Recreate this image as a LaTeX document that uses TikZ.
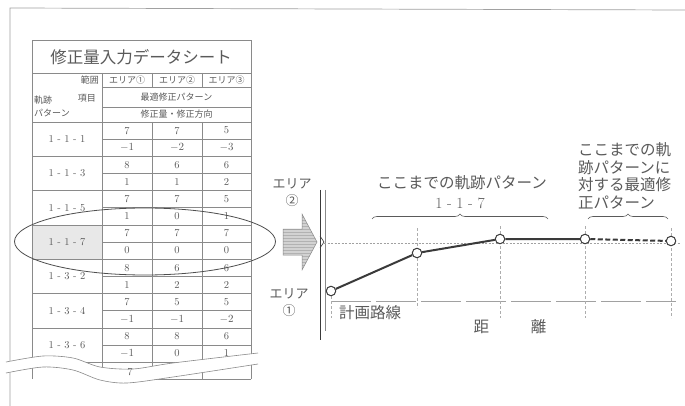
\documentclass[tikz,border=0pt]{standalone}
\usepackage{fontspec}
\newfontfamily\jp{Noto Sans CJK JP}
\usetikzlibrary{decorations.pathreplacing,shapes.geometric}
\definecolor{lc}{HTML}{8A8A8A}
\definecolor{tx}{HTML}{5A5A5A}
\definecolor{dk}{HTML}{3A3A3A}
\begin{document}
\begin{tikzpicture}[x=1pt,y=-1pt,
  tline/.style={draw=lc,line width=0.6pt},
  frame/.style={draw=lc!80,line width=0.7pt},
  ttl/.style={inner sep=0pt,text=tx,font=\jp\fontsize{16.5}{18}\selectfont},
  hd/.style={inner sep=0pt,text=tx,font=\jp\fontsize{9}{10}\selectfont},
  dat/.style={inner sep=0pt,text=tx,font=\fontsize{10.5}{12}\selectfont},
  lbl/.style={inner sep=0pt,text=tx,font=\jp\fontsize{15.5}{17.5}\selectfont},
  sml/.style={inner sep=0pt,text=tx,align=center,font=\jp\fontsize{13}{17}\selectfont},
  pt/.style={circle,draw=dk,fill=white,line width=1pt,minimum size=9.5pt,inner sep=0pt},
  traj/.style={draw=dk,line width=2pt},
  grid/.style={draw=lc!70,line width=0.5pt,dash pattern=on 3pt off 2pt},
  refl/.style={draw=lc!80,line width=0.5pt,dash pattern=on 2pt off 1.5pt},
  plan/.style={draw=lc!80,line width=0.6pt,dash pattern=on 40pt off 5pt},
  brc/.style={draw=tx,line width=0.6pt,decorate,decoration={brace,amplitude=5pt}},
  oval/.style={ellipse,draw=dk!90,line width=0.8pt,minimum width=261pt,minimum height=67pt,inner sep=0pt}]
\useasboundingbox (0,0) rectangle (685,406);
\fill[white] (0,0) rectangle (685,406);
% outer frame
\draw[frame] (10,406) -- (10,8) -- (685,10);
% highlight cell
\fill[gray!18] (32,224.9) rectangle (102,259.2);
% table frame and header lines
\draw[tline] (32,379) -- (32,40) -- (251,40) -- (251,379);
\draw[tline] (32,73) -- (251,73);
\draw[tline] (102,87) -- (251,87);
\draw[tline] (102,107) -- (251,107);
\draw[tline] (32,122) -- (251,122);
\draw[tline] (102,73) -- (102,379);
\draw[tline] (152,73) -- (152,87);
\draw[tline] (202,73) -- (202,87);
\draw[tline] (152,122) -- (152,379);
\draw[tline] (202,122) -- (202,379);
\draw[tline] (102,379) -- (251,379);
% title and header
\node[ttl] (title) at (141,57) {修正量入力データシート};
\node[hd,anchor=east] (han) at (99,80) {範囲};
\node[hd] (h1) at (127,80) {エリア①};
\node[hd] (h2) at (177,80) {エリア②};
\node[hd] (h3) at (226.5,80) {エリア③};
\node[hd] (opt) at (176.5,97) {最適修正パターン};
\node[hd] (amt) at (176.5,114.5) {修正量・修正方向};
\node[hd,anchor=west] (kis) at (34,100) {軌跡};
\node[hd,anchor=east] (kou) at (96,98) {項目};
\node[hd,anchor=west] (pat) at (34,113) {パターン};
% data
\foreach \lab/\va/\vb/\vc/\vd/\ve/\vf [count=\i from 0] in {%
 1 - 1 - 1/7/7/5/$-1$/$-2$/$-3$,%
 1 - 1 - 3/8/6/6/1/1/2,%
 1 - 1 - 5/7/7/5/1/0/1,%
 1 - 1 - 7/7/7/7/0/0/0,%
 1 - 3 - 2/8/6/6/1/2/2,%
 1 - 3 - 4/7/5/5/$-1$/$-1$/$-2$,%
 1 - 3 - 6/8/8/6/$-1$/0/1}
{
 \pgfmathsetmacro\yt{122+34.3*\i}
 \pgfmathsetmacro\ya{\yt+8.6}
 \pgfmathsetmacro\yb{\yt+25.7}
 \pgfmathsetmacro\ym{\yt+17.15}
 \pgfmathsetmacro\ye{\yt+34.3}
 \node[dat] (lab\i) at (67,\ym) {\lab};
 \node[dat] (da\i) at (127,\ya) {\va};
 \node[dat] (db\i) at (177,\ya) {\vb};
 \node[dat] (dc\i) at (226.5,\ya) {\vc};
 \node[dat] (dd\i) at (127,\yb) {\vd};
 \node[dat] (de\i) at (177,\yb) {\ve};
 \node[dat] (df\i) at (226.5,\yb) {\vf};
 \draw[tline] (102,\ym) -- (251,\ym);
 \draw[tline] (32,\ye) -- (251,\ye);
}
% break (torn) mark
\fill[white] plot[smooth] coordinates {(6,362) (43,356) (73,358) (100,367) (133,369) (173,363) (258,353)}
  -- plot[smooth] coordinates {(258,364) (173,377) (127,383) (100,380) (73,370) (43,367) (6,373)} -- cycle;
\draw[tline] plot[smooth] coordinates {(6,362) (43,356) (73,358) (100,367) (133,369) (173,363) (258,353)};
\draw[tline] plot[smooth] coordinates {(6,373) (43,367) (73,370) (100,380) (127,383) (173,377) (258,364)};
\node[dat] (dnext) at (130,372) {7};
% ellipse
\node[oval] (oval) at (145,241.5) {};
% big arrow
\begin{scope}
\clip (283,229) -- (302,229) -- (302,214) -- (317,242) -- (302,270) -- (302,255) -- (283,255) -- cycle;
\fill[gray!35] (280,210) rectangle (320,275);
\foreach \yy in {214,217,...,272} \draw[gray!60,line width=0.5pt] (280,\yy) -- (320,\yy);
\end{scope}
\draw[lc,line width=0.5pt] (283,229) -- (302,229) -- (302,214) -- (317,242) -- (302,270) -- (302,255) -- (283,255) -- cycle;
% axis
\draw[dk,line width=1pt] (320,190) -- (320,340);
\draw[lc,line width=0.6pt] (325,190) -- (325,331);
\draw[dk,line width=0.6pt] (320,236) -- (324,242) -- (320,248);
% reference lines
\draw[refl] (324,243) -- (680,243);
\draw[plan] (331,301) -- (676,301);
\draw[grid] (331,296) -- (331,318);
\draw[grid] (417,228) -- (417,308);
\draw[grid] (500,226) -- (500,318);
\draw[grid] (585,226) -- (585,318);
\draw[grid] (671,228) -- (671,318);
% trajectory
\node[pt] (p0) at (331,291) {};
\node[pt] (p1) at (417,253) {};
\node[pt] (p2) at (500,239) {};
\node[pt] (p3) at (585,239) {};
\node[pt] (p4) at (671,241) {};
\draw[traj] (p0) -- (p1) -- (p2) -- (p3);
\draw[traj,dash pattern=on 5pt off 2.5pt] (p3) -- (p4);
% braces
\coordinate (b1s) at (372,219);
\coordinate (b1e) at (548,219);
\coordinate (b2s) at (588,219);
\coordinate (b2e) at (668,219);
\draw[brc] (b1s) -- (b1e);
\draw[brc] (b2s) -- (b2e);
% labels
\node[lbl] (t1) at (462,183) {ここまでの軌跡パターン};
\node[inner sep=0pt,text=tx,font=\fontsize{15.5}{17}\selectfont] (t2) at (460,203) {1 - 1 - 7};
\node[lbl,align=left,anchor=west] (t3) at (578,176) {ここまでの軌\\跡パターンに\\対する最適修\\正パターン};
\node[sml] (e2) at (292,193) {エリア\\②};
\node[sml] (e1) at (289,303) {エリア\\①};
\node[lbl] (plan) at (370,313) {計画路線};
\node[lbl] (dist) at (510,327) {距\hspace{42pt}離};
\end{tikzpicture}
\end{document}
